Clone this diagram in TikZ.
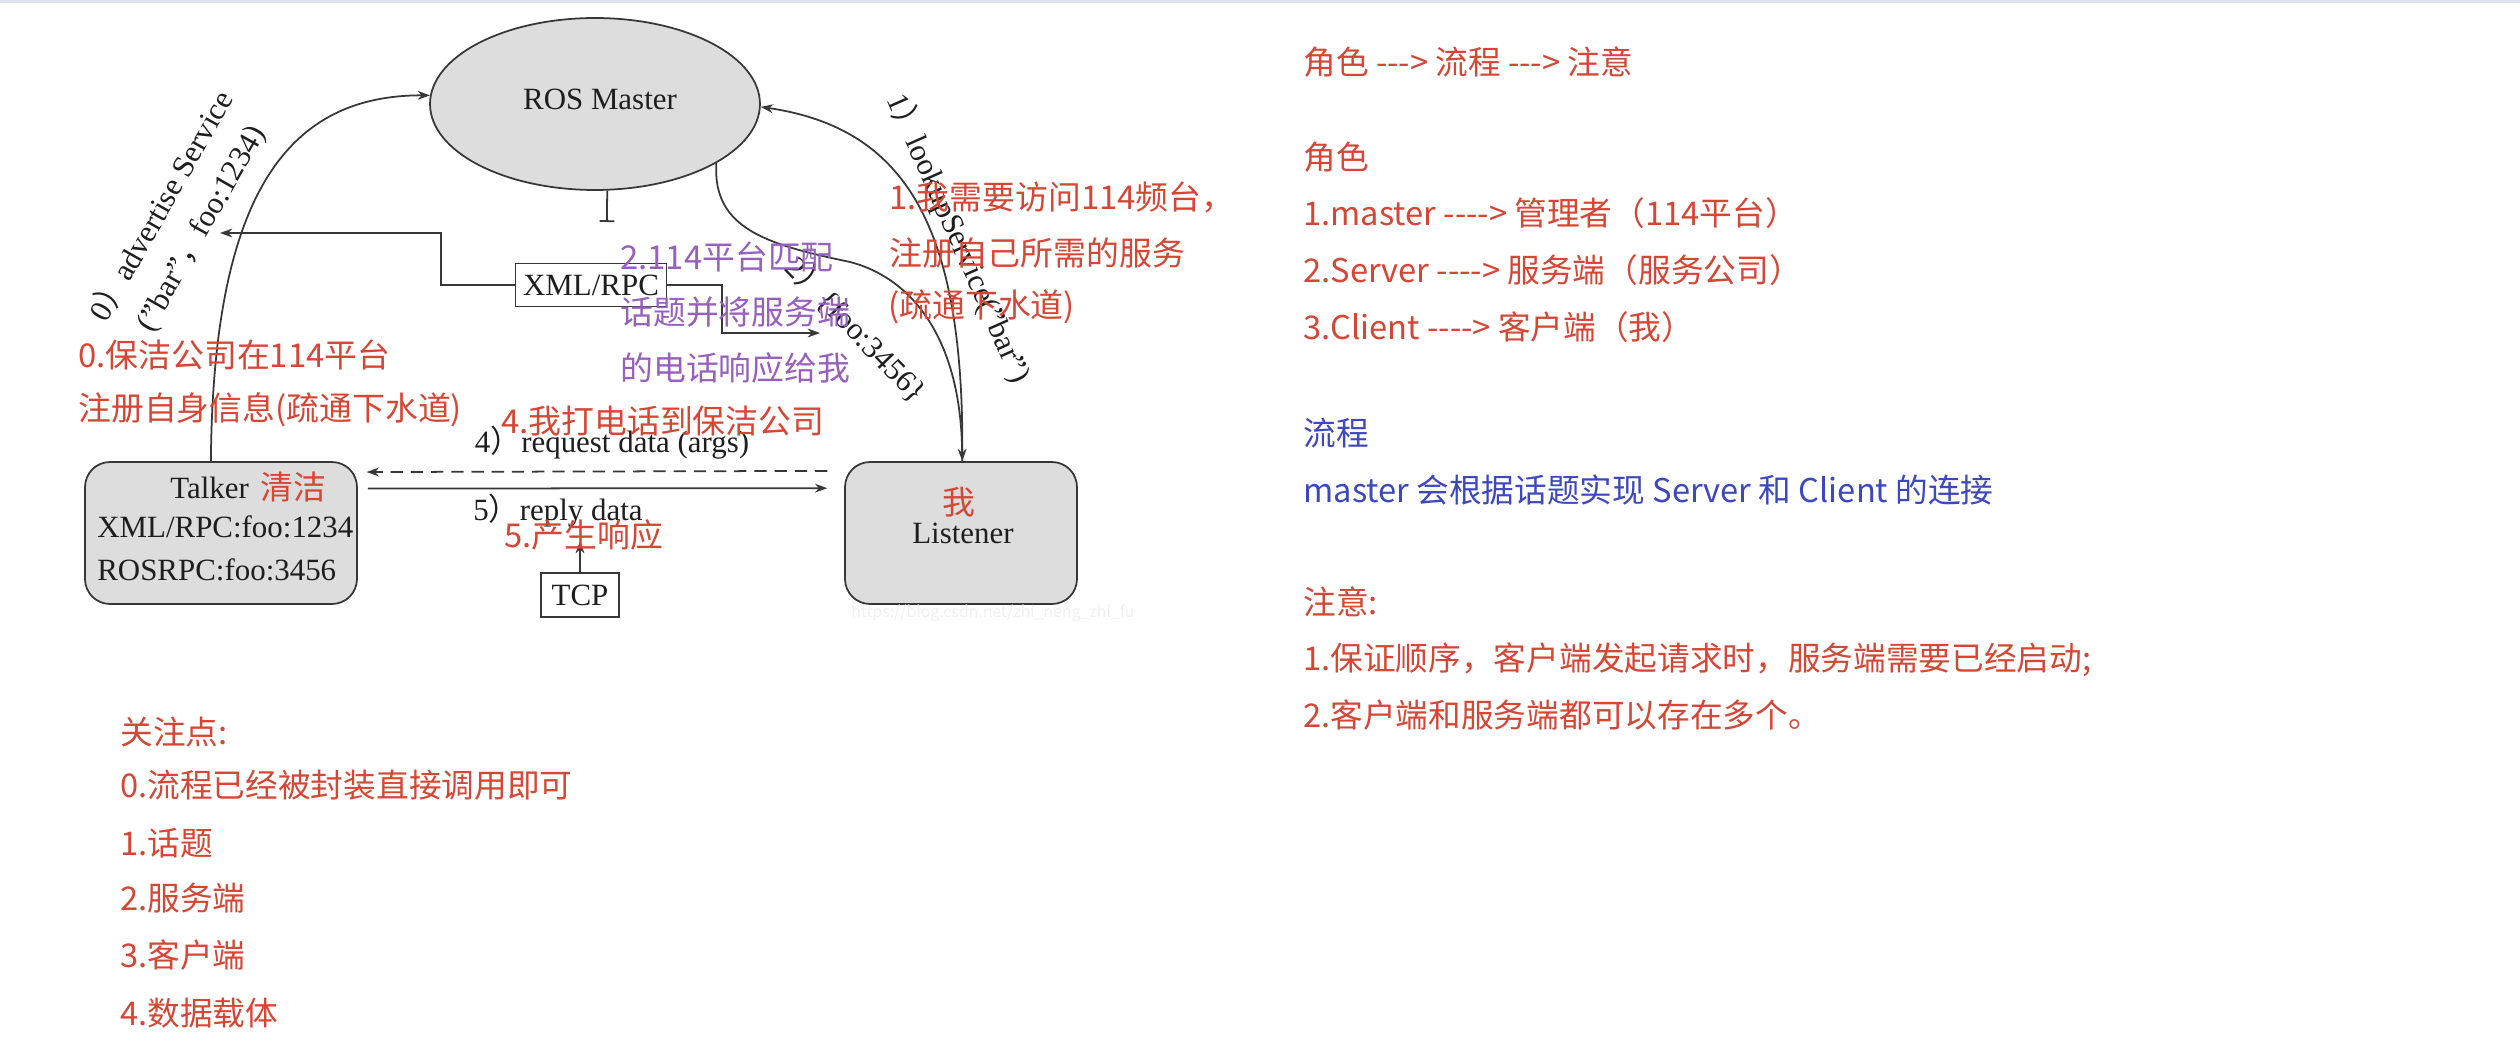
\documentclass[tikz,border=0pt]{standalone}
\usepackage{fontspec}
\setmainfont{Liberation Serif}
\newfontfamily\cjk{Noto Sans CJK SC}
\usetikzlibrary{arrows.meta,shapes.geometric}
\definecolor{redc}{RGB}{214,70,52}
\definecolor{purc}{RGB}{152,96,190}
\definecolor{bluc}{RGB}{62,72,190}
\definecolor{boxfill}{RGB}{221,221,221}
\definecolor{lncol}{RGB}{55,55,55}
\definecolor{txtcol}{RGB}{30,30,30}
\definecolor{wmcol}{RGB}{240,240,240}
\definecolor{topbar}{RGB}{222,226,238}
\newcommand\hyd{-\kern0pt}
\tikzset{
  ln/.style={draw=lncol, line width=1pt},
  arr/.style={ln, -{Stealth[length=7pt,width=5pt]}},
  gbox/.style={draw=lncol, fill=boxfill, line width=1pt},
  wbox/.style={draw=lncol, fill=white, line width=1pt},
  serif/.style={font=\fontsize{17.6}{21}\selectfont, text=txtcol},
  ann/.style={font=\cjk\fontsize{18.7}{22}\selectfont, anchor=west},
  annr/.style={ann, text=redc},
  annp/.style={ann, text=purc},
  side/.style={font=\cjk\fontsize{18.6}{22}\selectfont, anchor=west},
  sider/.style={side, text=redc},
  sideb/.style={side, text=bluc},
}
\begin{document}
\begin{tikzpicture}[x=0.02cm,y=-0.02cm, every node/.style={inner sep=0pt}]
\useasboundingbox (0,0) rectangle (2520,1064);
\fill[white] (0,0) rectangle (2520,1064);
\fill[topbar] (0,0) rectangle (2520,3);

% ---- main nodes
\node[gbox, ellipse, minimum width=6.6cm, minimum height=3.44cm] (master) at (595,104) {};
\node[serif, anchor=base] (masterT) at (600,110) {ROS Master};
\node[gbox, rounded corners=0.5cm, minimum width=5.44cm, minimum height=2.84cm] (talker) at (221,533) {};
\node[gbox, rounded corners=0.5cm, minimum width=4.64cm, minimum height=2.84cm] (listener) at (961,533) {};
\node[wbox, serif, minimum width=3.02cm, minimum height=0.86cm] (xmlrpc) at (591,285) {XML/RPC};
\node[wbox, serif, minimum width=1.56cm, minimum height=0.88cm] (tcp) at (580,595) {TCP};

% ---- texts inside boxes
\node[serif, anchor=base west] (talkerN) at (170,498) {Talker};
\node[annr] (talkerZ) at (260,487) {清洁};
\node[serif, anchor=base west] (talkerP1) at (97,537) {XML/RPC:foo:1234};
\node[serif, anchor=base west] (talkerP2) at (97,580) {ROSRPC:foo:3456};
\node[annr, anchor=center] (listenerZ) at (959,502) {我};
\node[serif, anchor=base] (listenerN) at (963,543) {Listener};

% ---- connectors
\coordinate (advtip) at (220,233);
\coordinate (pur2tip) at (820,333);
\coordinate (tbar) at (607,222);
\coordinate (tcptip) at (580,541);
\draw[arr] (talker.98) .. controls (213,190) and (290,95) .. (master.177);
\draw[arr] (listener.89) .. controls (965,225) and (905,128) .. (master.-1);
\draw[arr] (master.-26) .. controls (712,230) and (770,245) .. (850,262)
           .. controls (905,276) and (961,330) .. (listener.89);
\draw[arr] (xmlrpc.west) -- ++(-74,0) |- (advtip);
\draw[arr] (xmlrpc.east) -- ++(55,0) |- (pur2tip);
\draw[ln, -{Bar[width=8.5pt]}] (master.-82) -- (tbar);
\draw[arr, dash pattern=on 7pt off 4.5pt, shorten <=9.6pt, shorten >=5pt] (listener.152) -- (talker.24);
\draw[arr, shorten <=5.7pt, shorten >=9.6pt] (talker.18) -- (listener.159);
\draw[arr] (tcp.north) -- (tcptip);

% ---- connector labels
\node[serif, rotate=60.5, align=center, font=\fontsize{17.6}{25.5}\selectfont] (advL) at (181,217)
  {0{\cjk ）}advertise Service\\("bar"{\cjk ，}foo:1234)};
\node[serif, rotate=-66] (lookL) at (959,238) {1{\cjk ）}lookupService("bar")};
\node[serif, rotate=-46] (fooL) at (857,329) {2{\cjk ）}\{foo:3456\}};
\node[serif, anchor=base] (reqL) at (612,452) {4{\cjk ）}request data (args)};
\node[serif, anchor=base] (repL) at (558,520) {5{\cjk ）}reply data};
\node[font=\cjk\fontsize{9}{10}\selectfont, text=wmcol, anchor=west] (wmark) at (851,613) {https://blog.csdn.net/zhi\_neng\_zhi\_fu};

% ---- annotations in the diagram
\node[annr] (a0a) at (78,355) {0.保洁公司在114平台};
\node[annr] (a0b) at (78,410) {注册自身信息(疏通下水道)};
\node[annr] (a1a) at (889,197) {1.我需要访问114频台，};
\node[annr] (a1b) at (889,253) {注册自己所需的服务};
\node[annr] (a1c) at (888,307) {(疏通下水道)};
\node[annp] (a2a) at (620,257) {2.114平台匹配};
\node[annp] (a2b) at (620,312) {话题并将服务端};
\node[annp] (a2c) at (620,368) {的电话响应给我};
\node[annr] (a4) at (501,421) {4.我打电话到保洁公司};
\node[annr] (a5) at (504,535) {5.产生响应};

% ---- right column
\node[sider] (r1) at (1303,62) {角色 \hyd\hyd\hyd> 流程 \hyd\hyd\hyd> 注意};
\node[sider] (r2) at (1303,157) {角色};
\node[sider] (r3) at (1303,213) {1.master \hyd\hyd\hyd\hyd> 管理者（114平台）};
\node[sider] (r4) at (1303,270) {2.Server \hyd\hyd\hyd\hyd> 服务端（服务公司）};
\node[sider] (r5) at (1303,327) {3.Client \hyd\hyd\hyd\hyd> 客户端（我）};
\node[sideb] (r6) at (1303,433) {流程};
\node[sideb] (r7) at (1303,490) {master 会根据话题实现 Server 和 Client 的连接};
\node[sider] (r8) at (1303,602) {注意:};
\node[sider] (r9) at (1303,660) {1.保证顺序，客户端发起请求时，服务端需要已经启动;};
\node[sider] (r10) at (1303,715) {2.客户端和服务端都可以存在多个。};

% ---- bottom-left list
\node[sider] (b1) at (120,732) {关注点:};
\node[sider] (b2) at (120,785) {0.流程已经被封装直接调用即可};
\node[sider] (b3) at (120,843) {1.话题};
\node[sider] (b4) at (120,898) {2.服务端};
\node[sider] (b5) at (120,955) {3.客户端};
\node[sider] (b6) at (120,1013) {4.数据载体};
\end{tikzpicture}
\end{document}
